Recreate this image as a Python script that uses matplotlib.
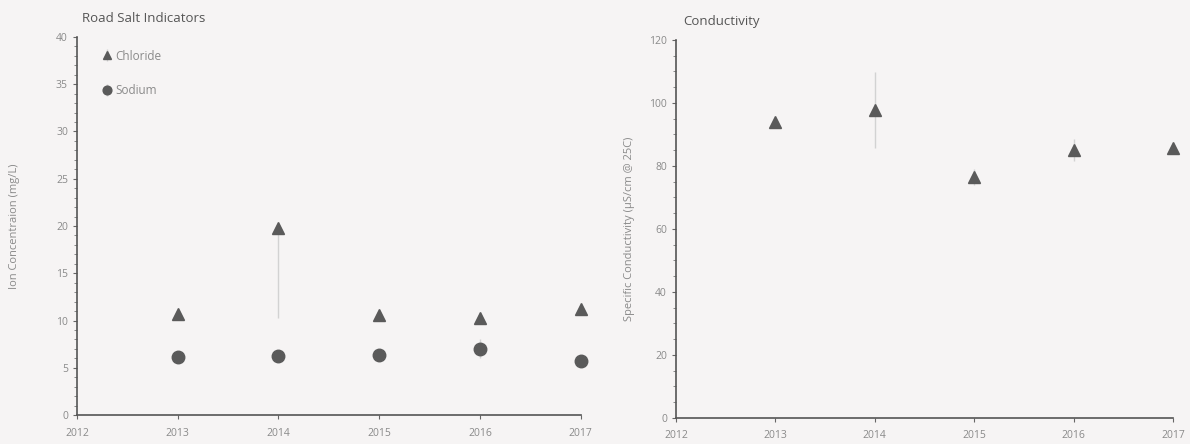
import matplotlib.pyplot as plt
from matplotlib.ticker import MultipleLocator

years = [2013, 2014, 2015, 2016, 2017]
chloride = [10.7, 19.8, 10.6, 10.3, 11.2]
chloride_err_lo = [0.3, 9.5, 0.3, 0.3, 0.3]
chloride_err_hi = [0.3, 0.3, 0.3, 0.3, 0.3]
sodium = [6.1, 6.2, 6.4, 7.0, 5.7]
sodium_err = [0.3, 0.3, 0.3, 1.0, 0.3]

conductivity = [93.8, 97.8, 76.5, 85.0, 85.7]
cond_err = [1.5, 12.0, 2.5, 3.5, 1.5]

xticks = [2012, 2013, 2014, 2015, 2016, 2017]

plt.rcParams['font.family'] = ['Open Sans', 'DejaVu Sans']
bg = "#f6f4f4"
text_gray = "#8a8a8a"
mark_gray = "#5a5a5a"

fig = plt.figure(figsize=(11.9, 4.44), dpi=100, facecolor=bg)
ax1 = fig.add_axes([0.0647, 0.0653, 0.4233, 0.8514], facecolor=bg)
ax2 = fig.add_axes([0.568, 0.0586, 0.4177, 0.8514], facecolor=bg)


def style_axis(ax):
    for side in ["top", "right"]:
        ax.spines[side].set_visible(False)
    for side in ["left", "bottom"]:
        ax.spines[side].set_color("#555555")
        ax.spines[side].set_linewidth(1.2)
    ax.set_xlim(2012, 2017)
    ax.set_xticks(xticks)
    ax.tick_params(axis="both", colors="#666666", labelcolor=text_gray, labelsize=7.5, length=3)
    ax.tick_params(axis="y", which="minor", length=2, colors="#777777")
    ax.tick_params(axis="x", pad=6)


errSettings = dict(ecolor="#d2d2d2", elinewidth=1, capsize=0, linestyle="none", clip_on=False)

ax1.errorbar(years, chloride, yerr=[chloride_err_lo, chloride_err_hi], marker="^",
             markersize=9, color=mark_gray, label="Chloride", **errSettings)
ax1.errorbar(years, sodium, yerr=sodium_err, marker="o", markersize=9,
             color=mark_gray, label="Sodium", **errSettings)
style_axis(ax1)
ax1.set_ylim(0, 40)
ax1.yaxis.set_major_locator(MultipleLocator(5))
ax1.yaxis.set_minor_locator(MultipleLocator(1))
ax1.set_ylabel("Ion Concentraion (mg/L)", color=text_gray, fontsize=8, labelpad=26)
ax1.set_title("Road Salt Indicators", loc="left", color="#555555", fontsize=9.5, x=0.01, pad=11)
leg = ax1.legend(loc="upper left", bbox_to_anchor=(0.025, 0.995), frameon=False, fontsize=8.5,
                 handletextpad=0.1, labelspacing=1.8, markerscale=0.7, handlelength=1.2)
for t in leg.get_texts():
    t.set_color(text_gray)

ax2.errorbar(years, conductivity, yerr=cond_err, marker="^", markersize=9,
             color=mark_gray, **errSettings)
style_axis(ax2)
ax2.set_ylim(0, 120)
ax2.yaxis.set_major_locator(MultipleLocator(20))
ax2.yaxis.set_minor_locator(MultipleLocator(5))
ax2.set_ylabel("Specific Conductivity (µS/cm @ 25C)", color=text_gray, fontsize=8, labelpad=10)
ax2.set_title("Conductivity", loc="left", color="#555555", fontsize=9.5, x=0.015, pad=11)

fig.savefig("out.png", dpi=100, facecolor=bg)
